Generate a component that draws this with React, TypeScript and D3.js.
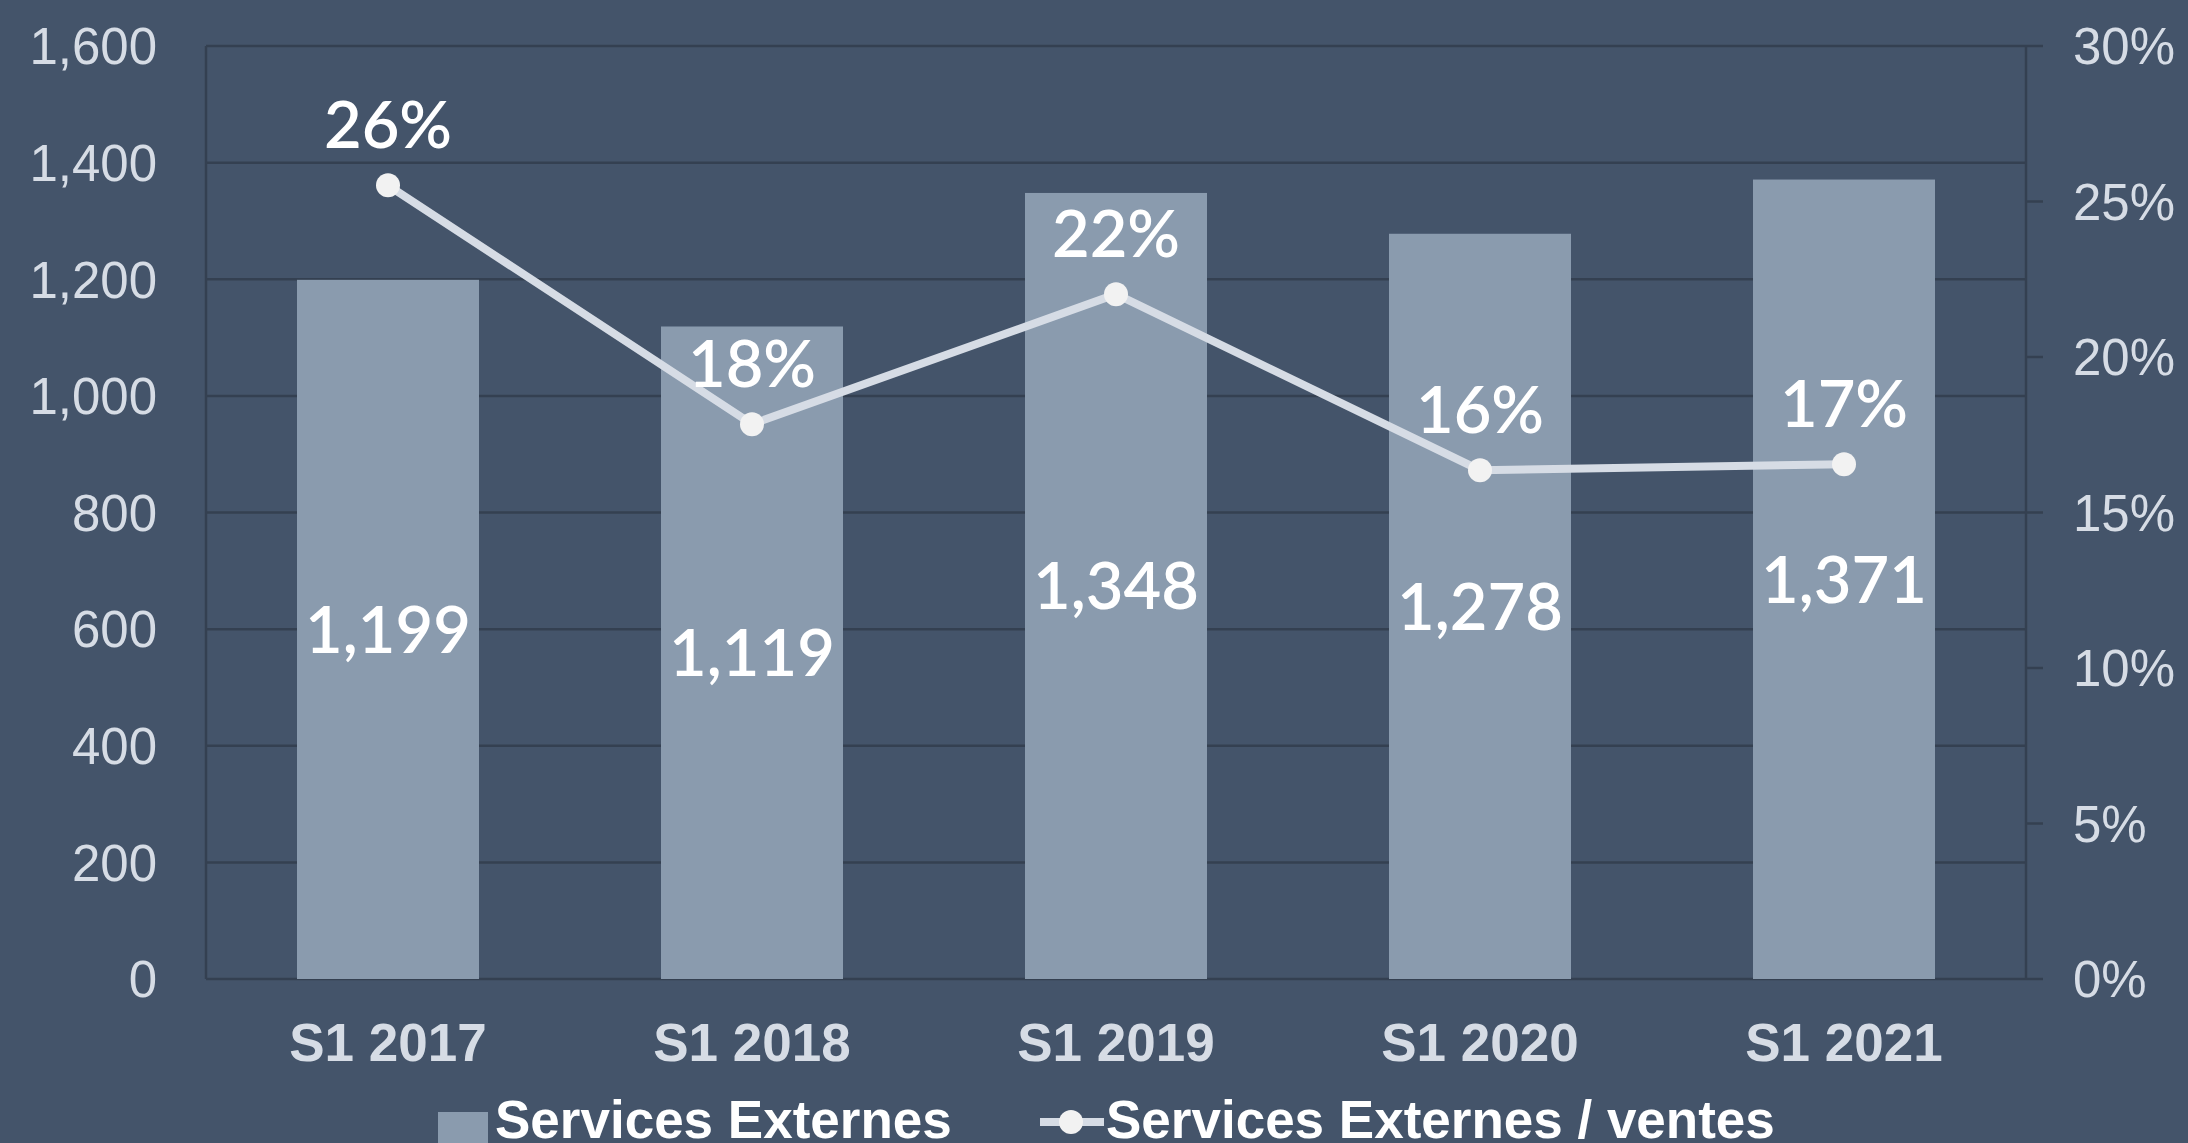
import React from "react";
import * as d3 from "d3";

const categories = ["S1 2017", "S1 2018", "S1 2019", "S1 2020", "S1 2021"];
const servicesExternes = [1199, 1119, 1348, 1278, 1371];
const ratioVentes = [0.2552, 0.1784, 0.2202, 0.1636, 0.1655];
const leftTicks = [0, 200, 400, 600, 800, 1000, 1200, 1400, 1600];
const rightTicks = [0, 0.05, 0.1, 0.15, 0.2, 0.25, 0.3];
const legendLabels = ["Services Externes", "Services Externes / ventes"];

const W = 2188;
const H = 1143;
const BG = "#44546a";
const BAR = "#8a9bae";
const GRID = "#344051";
const LINE = "#d6dce5";
const MARK = "#f2f2f2";
const AXIS_TXT = "#d6dce5";

export default function App() {
  const left = 206;
  const right = 2026;
  const top = 46;
  const bottom = 979;

  const x = d3.scaleBand<string>().domain(categories).range([left, right]).paddingInner(0.5).paddingOuter(0.25);
  const yL = d3.scaleLinear().domain([0, 1600]).range([bottom, top]);
  const yR = d3.scaleLinear().domain([0, 0.3]).range([bottom, top]);
  const fmtNum = d3.format(",");
  const fmtPct = d3.format(".0%");

  const cx = (c: string) => (x(c) as number) + x.bandwidth() / 2;
  const linePath = d3
    .line<number>()
    .x((_, i) => cx(categories[i]))
    .y((d) => yR(d))(ratioVentes) as string;

  return (
    <svg
      width={W}
      height={H}
      style={{ position: "absolute", left: 0, top: 0, display: "block" }}
    >
      <rect x={0} y={0} width={W} height={H} fill={BG} />
      {leftTicks.map((t) => (
        <line key={"g" + t} x1={left} x2={right} y1={yL(t)} y2={yL(t)} stroke={GRID} strokeWidth={2.5} />
      ))}
      <line x1={left} x2={left} y1={top} y2={bottom} stroke={GRID} strokeWidth={2.5} />
      <line x1={right} x2={right} y1={top} y2={bottom} stroke={GRID} strokeWidth={2.5} />
      {rightTicks.map((t) => (
        <line key={"rt" + t} x1={right} x2={right + 17} y1={yR(t)} y2={yR(t)} stroke={GRID} strokeWidth={2.5} />
      ))}
      {leftTicks.map((t) => (
        <text
          key={"l" + t}
          x={157}
          y={yL(t)}
          dy="0.36em"
          textAnchor="end"
          fontFamily="'Liberation Sans', Arial, sans-serif"
          fontSize={51}
          fill={AXIS_TXT}
        >
          {fmtNum(t)}
        </text>
      ))}
      {rightTicks.map((t) => (
        <text
          key={"r" + t}
          x={2073}
          y={yR(t)}
          dy="0.36em"
          textAnchor="start"
          fontFamily="'Liberation Sans', Arial, sans-serif"
          fontSize={51}
          fill={AXIS_TXT}
        >
          {fmtPct(t)}
        </text>
      ))}
      {categories.map((c, i) => (
        <rect
          key={"b" + c}
          x={x(c)}
          y={yL(servicesExternes[i])}
          width={x.bandwidth()}
          height={yL(0) - yL(servicesExternes[i])}
          fill={BAR}
        />
      ))}
      {categories.map((c, i) => (
        <text
          key={"bl" + c}
          x={cx(c)}
          y={(yL(servicesExternes[i]) + yL(0)) / 2}
          dy="0.36em"
          textAnchor="middle"
          fontFamily="Lato, sans-serif"
          fontWeight={600}
          fontSize={65}
          fill="#ffffff"
        >
          {fmtNum(servicesExternes[i])}
        </text>
      ))}
      <path d={linePath} fill="none" stroke={LINE} strokeWidth={8} />
      {ratioVentes.map((v, i) => (
        <circle key={"m" + i} cx={cx(categories[i])} cy={yR(v)} r={12} fill={MARK} />
      ))}
      {ratioVentes.map((v, i) => (
        <text
          key={"ml" + i}
          x={cx(categories[i])}
          y={yR(v) - 37}
          textAnchor="middle"
          fontFamily="Lato, sans-serif"
          fontWeight={600}
          fontSize={65}
          fill="#ffffff"
        >
          {fmtPct(v)}
        </text>
      ))}
      {categories.map((c) => (
        <text
          key={"x" + c}
          x={cx(c)}
          y={1061}
          textAnchor="middle"
          fontFamily="'Liberation Sans', Arial, sans-serif"
          fontWeight={700}
          fontSize={53}
          fill={AXIS_TXT}
        >
          {c}
        </text>
      ))}
      <rect x={438} y={1112} width={50} height={50} fill={BAR} />
      <text
        x={495}
        y={1138}
        fontFamily="'Liberation Sans', Arial, sans-serif"
        fontWeight={700}
        fontSize={53}
        fill="#ffffff"
      >
        {legendLabels[0]}
      </text>
      <line x1={1040} x2={1104} y1={1122} y2={1122} stroke={LINE} strokeWidth={8} />
      <circle cx={1071} cy={1122} r={12} fill={MARK} />
      <text
        x={1106}
        y={1138}
        fontFamily="'Liberation Sans', Arial, sans-serif"
        fontWeight={700}
        fontSize={53}
        fill="#ffffff"
      >
        {legendLabels[1]}
      </text>
    </svg>
  );
}
